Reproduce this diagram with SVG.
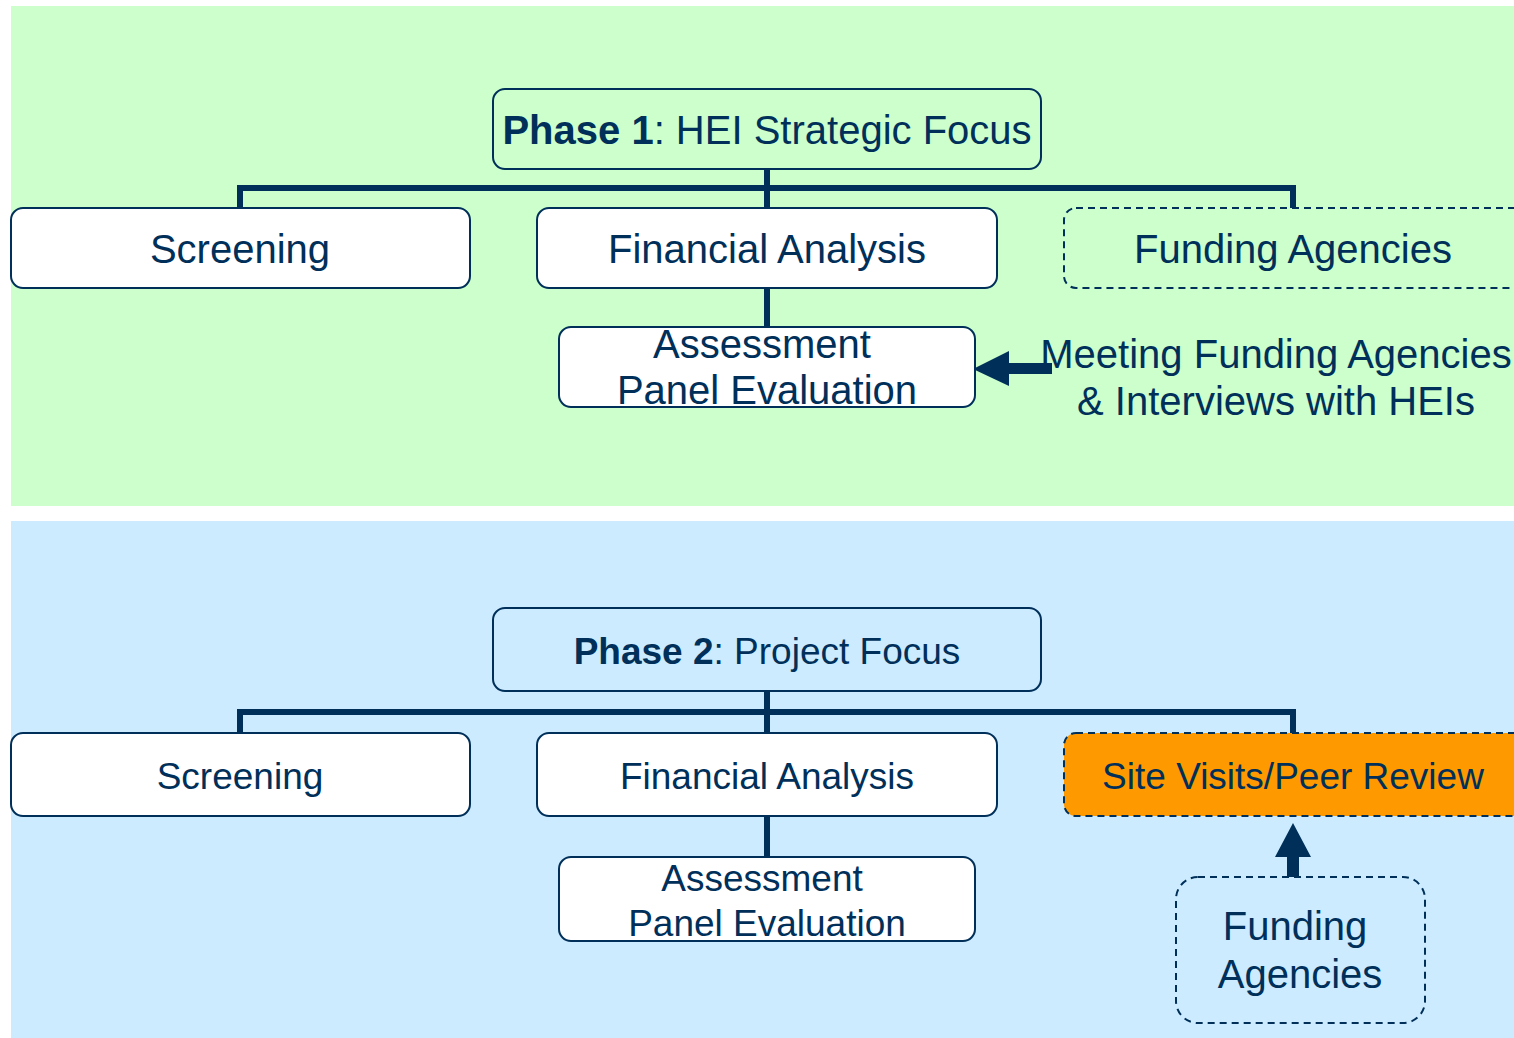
<svg xmlns="http://www.w3.org/2000/svg" width="1514" height="1038" viewBox="0 0 1514 1038">
<style>
.box{fill:#FFFFFF;stroke:#00305A;stroke-width:2}
.title{fill:none;stroke:#00305A;stroke-width:2}
.dash{fill:none;stroke:#00305A;stroke-width:2;stroke-dasharray:7 5}
.orange{fill:#FF9900;stroke:#00305A;stroke-width:2;stroke-dasharray:7 5}
.t{font-family:"Liberation Sans",Arial,sans-serif;fill:#00305A;text-anchor:middle}
.s40{font-size:40px}
.s37{font-size:37px}
.conn{fill:none;stroke:#00305A;stroke-width:6}
.arr{fill:#00305A}
</style>
<rect x="11" y="6" width="1503" height="500" fill="#CCFFCC"/>
<rect x="11" y="521" width="1503" height="517" fill="#CCEBFF"/>
<g id="connectors">
<path class="conn" d="M767 169 V208 M240 208 V188 H1293 V208 M767 288 V327"/>
<path class="conn" d="M767 691 V733 M240 733 V712 H1293 V733 M767 816 V857"/>
<polygon class="arr" points="973,369 1009,351 1009,363 1052,363 1052,374 1009,374 1009,386"/>
<polygon class="arr" points="1293,823 1311,857 1299,857 1299,877 1287,877 1287,857 1275,857"/>
</g>
<g id="p1-title">
<rect class="title" x="493" y="89" width="548" height="80" rx="12"/>
<text class="t s40" x="767" y="144"><tspan font-weight="bold">Phase 1</tspan>: HEI Strategic Focus</text>
</g>
<g id="p1-screening">
<rect class="box" x="11" y="208" width="459" height="80" rx="12"/>
<text class="t s40" x="240" y="263">Screening</text>
</g>
<g id="p1-financial">
<rect class="box" x="537" y="208" width="460" height="80" rx="12"/>
<text class="t s40" x="767" y="263">Financial Analysis</text>
</g>
<g id="p1-funding">
<rect class="dash" x="1064" y="208" width="470" height="80" rx="12"/>
<text class="t s40" x="1293" y="263">Funding Agencies</text>
</g>
<g id="p1-assessment">
<rect class="box" x="559" y="327" width="416" height="80" rx="12"/>
<text class="t s40" x="762" y="358">Assessment</text>
<text class="t s40" x="767" y="404">Panel Evaluation</text>
</g>
<g id="p1-meeting">
<text class="t s40" x="1276" y="368">Meeting Funding Agencies</text>
<text class="t s40" x="1276" y="415">&amp; Interviews with HEIs</text>
</g>
<g id="p2-title">
<rect class="title" x="493" y="608" width="548" height="83" rx="12"/>
<text class="t s37" x="767" y="664"><tspan font-weight="bold">Phase 2</tspan>: Project Focus</text>
</g>
<g id="p2-screening">
<rect class="box" x="11" y="733" width="459" height="83" rx="12"/>
<text class="t s37" x="240" y="789">Screening</text>
</g>
<g id="p2-financial">
<rect class="box" x="537" y="733" width="460" height="83" rx="12"/>
<text class="t s37" x="767" y="789">Financial Analysis</text>
</g>
<g id="p2-sitevisits">
<rect class="orange" x="1064" y="733" width="470" height="83" rx="12"/>
<text class="t s37" x="1293" y="789">Site Visits/Peer Review</text>
</g>
<g id="p2-assessment">
<rect class="box" x="559" y="857" width="416" height="84" rx="12"/>
<text class="t s37" x="762" y="891">Assessment</text>
<text class="t s37" x="767" y="936">Panel Evaluation</text>
</g>
<g id="p2-funding">
<rect class="dash" x="1176" y="877" width="249" height="146" rx="22"/>
<text class="t s40" x="1295" y="940">Funding</text>
<text class="t s40" x="1300" y="988">Agencies</text>
</g>
</svg>
